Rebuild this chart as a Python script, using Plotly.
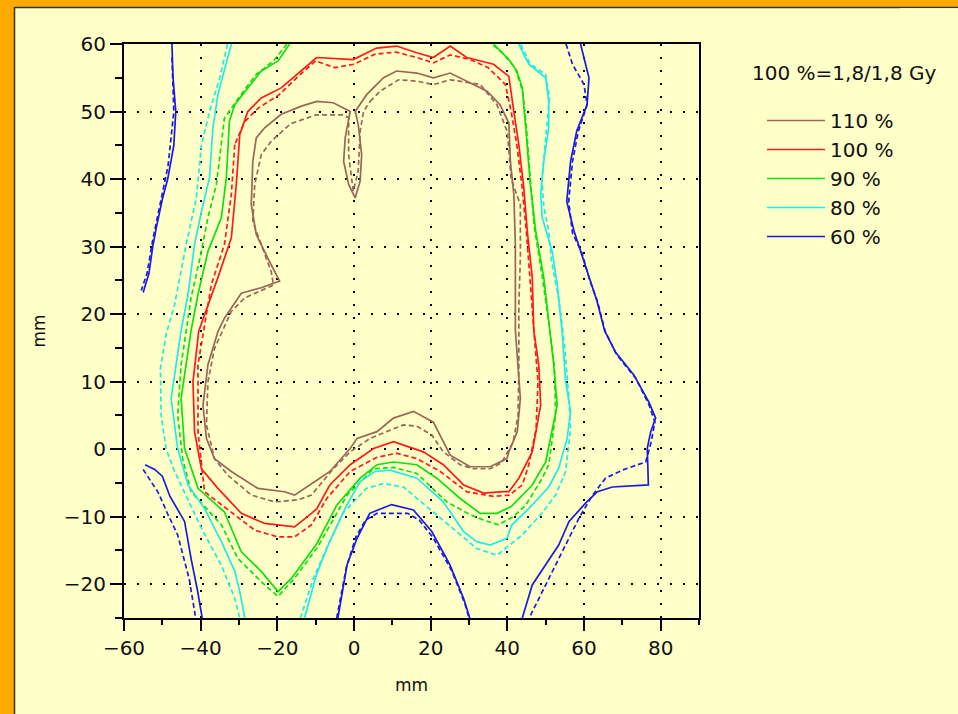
import plotly.graph_objects as go

# ---------------- data (mm) ----------------
levels = ["110 %", "100 %", "90 %", "80 %", "60 %"]
colors = ["#9A6658", "#FF1A1A", "#10E010", "#20EAEA", "#1A1AE6"]

# 110 % isodose
brown_solid_x = [-9.7, -5.4, -1.0, -2.3, -2.7, -1.4, 0.3, 1.6, 2.0, 1.1, 0.3, 3.3, 7.7, 11.1, 16.4, 20.7, 25.1, 29.4, 34.7, 38.1, 40.4, 40.8, 41.7, 42.1, 42.1, 43.4, 42.6, 40.4, 39.9, 35.5, 30.3, 25.1, 20.7, 15.5, 10.3, 6.0, 0.8, -1.0, -6.3, -9.7, -11.1, -15.5, -18.1, -25.1, -32.0, -36.4, -38.5, -39.4, -38.1, -35.5, -33.8, -29.4, -24.2, -19.4, -22.5, -25.5, -26.8, -26.4, -25.5, -23.3, -19.0, -13.7, -9.7]
brown_solid_y = [51.5, 51.3, 50.0, 46.1, 42.6, 39.2, 37.2, 39.7, 43.6, 48.1, 50.0, 52.5, 55.0, 56.0, 55.7, 55.0, 55.7, 54.5, 53.0, 51.0, 48.3, 42.6, 37.7, 30.3, 17.6, 7.5, 2.6, -0.4, -1.4, -2.6, -2.6, -0.9, 4.0, 5.6, 4.6, 2.6, 1.6, 0.1, -3.3, -4.6, -5.1, -6.8, -6.3, -5.8, -3.3, -1.4, 1.6, 6.5, 12.5, 17.4, 19.4, 23.1, 23.9, 24.9, 28.3, 31.8, 36.2, 42.6, 46.1, 47.6, 49.6, 50.8, 51.5]
brown_dash_x = [4.2, 6.8, 11.6, 16.4, 20.7, 25.1, 32.9, 37.3, 40.0, 41.0, 43.4, 43.4, 43.0, 43.0, 42.8, 41.5, 38.5, 35.5, 31.2, 27.7, 23.3, 20.3, 16.4, 12.9, 8.5, 4.2, -1.0, -5.4, -11.1, -14.6, -20.7, -26.8, -33.0, -36.4, -38.5, -38.1, -36.4, -32.0, -28.5, -21.0, -21.6, -24.2, -26.4, -25.9, -24.2, -21.6, -16.5, -10.0, -3.0, -1.4, -1.4, -0.2, 1.1, 1.6, 2.5, 4.2]
brown_dash_y = [51.5, 53.0, 54.7, 54.5, 54.0, 54.7, 54.0, 51.0, 47.0, 40.0, 36.2, 28.3, 21.4, 12.0, 5.0, 1.0, -2.0, -2.9, -2.9, -2.3, -0.4, 2.1, 3.4, 3.6, 2.6, 1.6, -0.4, -2.9, -6.8, -7.5, -7.8, -6.8, -3.8, -1.4, 3.6, 10.0, 14.9, 20.4, 22.4, 24.3, 26.3, 30.3, 33.7, 39.2, 43.6, 45.6, 48.2, 49.5, 49.5, 49.1, 43.6, 38.2, 41.2, 47.1, 50.0, 51.5]

# 100 % isodose
red_solid_x = [-9.7, -0.2, 5.9, 11.1, 16.4, 20.7, 25.1, 29.4, 36.4, 40.4, 41.7, 43.0, 44.3, 45.2, 46.5, 46.9, 48.2, 48.7, 46.5, 43.0, 40.4, 39.0, 33.8, 28.6, 23.3, 18.1, 10.3, 5.1, -1.0, -6.3, -9.7, -11.1, -15.5, -23.3, -29.4, -35.5, -39.8, -41.6, -42.0, -40.5, -35.5, -32.0, -30.7, -29.8, -27.7, -24.2, -19.0, -13.7, -9.7]
red_solid_y = [58.0, 57.7, 59.4, 59.7, 58.7, 58.0, 59.7, 58.0, 57.0, 55.2, 50.0, 45.1, 38.7, 32.3, 25.4, 17.6, 12.5, 6.5, -0.4, -4.3, -6.3, -6.3, -6.5, -5.3, -2.3, -0.4, 1.1, 0.1, -2.3, -5.3, -8.8, -9.5, -11.5, -11.0, -9.5, -5.8, -2.9, 2.6, 10.0, 17.5, 25.4, 31.3, 39.2, 46.6, 50.0, 52.0, 53.5, 56.0, 58.0]
red_dash_x = [-31.1, -32.0, -33.8, -37.2, -40.7, -40.7, -39.0, -32.0, -25.9, -19.8, -15.5, -11.1, -7.1, -1.0, 6.0, 11.1, 16.4, 22.5, 29.4, 36.4, 40.5, 43.9, 45.6, 47.5, 48.0, 47.0, 46.0, 45.0, 43.8, 42.5, 41.0, 39.5, 35.0, 30.3, 25.1, 20.7, 16.4, 11.0, 5.5, 0.0, -5.0, -10.0, -14.0, -19.5, -25.0, -28.5, -31.1]
red_dash_y = [45.1, 37.7, 30.3, 24.4, 12.5, 2.6, -6.3, -9.3, -12.0, -13.0, -13.0, -11.2, -7.3, -3.3, -1.2, -0.6, -1.4, -3.3, -6.3, -7.0, -6.8, -5.3, -2.3, 3.0, 10.0, 17.0, 25.0, 32.0, 39.0, 45.0, 50.0, 54.0, 56.5, 57.7, 58.4, 57.2, 58.0, 58.8, 58.5, 57.0, 56.5, 57.5, 55.5, 52.5, 50.5, 48.5, 45.1]

# 90 % isodose
green_solid_x = [-16.8, -19.8, -24.2, -27.7, -31.1, -32.5, -33.3, -34.6, -38.1, -40.7, -42.5, -45.1, -44.2, -40.7, -33.8, -29.4, -24.2, -19.8, -16.3, -9.7, -4.5, 1.6, 6.0, 10.3, 16.4, 21.6, 27.7, 32.9, 37.3, 41.0, 46.5, 50.0, 51.7, 53.0, 52.1, 51.1, 49.5, 47.4, 46.0, 44.8, 43.9, 42.5, 40.4, 36.4]
green_solid_y = [60.0, 57.5, 56.0, 53.5, 51.0, 48.6, 40.2, 34.3, 29.3, 22.9, 17.6, 7.5, 0.1, -5.8, -9.3, -15.2, -18.1, -21.1, -19.1, -14.0, -8.3, -4.3, -2.3, -1.9, -2.3, -4.3, -7.3, -9.5, -9.5, -8.5, -5.3, -1.9, 2.6, 6.5, 12.5, 17.5, 25.4, 32.3, 39.2, 47.6, 53.5, 56.0, 57.7, 60.0]
green_dash_x = [-17.5, -21.0, -25.5, -29.5, -33.8, -34.6, -35.9, -38.1, -39.8, -42.5, -45.1, -46.0, -44.7, -42.5, -34.6, -30.3, -23.3, -19.8, -15.5, -9.5, -4.0, -1.8, 5.1, 10.3, 16.4, 24.2, 30.3, 33.8, 37.7, 41.5, 44.8, 49.1, 50.8, 52.6, 52.3, 51.0, 49.0, 47.0, 46.0, 45.0, 44.0, 42.0, 39.0, 36.0]
green_dash_y = [60.0, 57.5, 55.5, 52.5, 49.0, 45.1, 39.2, 34.3, 29.3, 22.4, 12.5, 5.1, -1.4, -6.3, -11.2, -16.2, -20.1, -21.8, -19.1, -14.5, -9.0, -6.8, -2.9, -2.7, -3.6, -7.8, -9.7, -10.5, -11.2, -10.0, -8.3, -4.3, -2.3, 5.1, 12.0, 18.0, 26.0, 33.0, 40.0, 47.5, 53.0, 56.5, 58.5, 60.0]

# 80 % isodose (two pieces, separated by None)
cyan_solid_x = [-32.0, -33.8, -35.5, -36.8, -37.7, -39.8, -41.6, -43.3, -45.1, -47.7, -46.0, -43.3, -39.0, -34.6, -31.1, -29.8, -28.5, None,
                -12.9, -9.8, -7.1, -1.9, 1.6, 5.5, 9.4, 16.4, 23.3, 28.6, 32.0, 35.5, 39.9, 41.2, 45.6, 50.8, 53.4, 55.6, 56.5, 55.2, 54.3, 53.0, 51.7, 49.1, 48.7, 49.5, 50.8, 50.8, 50.0, 45.6, 43.0]
cyan_solid_y = [60.0, 56.0, 52.5, 47.6, 40.2, 35.2, 30.3, 22.9, 17.6, 7.5, 0.1, -5.3, -8.8, -13.7, -18.1, -21.1, -25.0, None,
                -25.0, -18.6, -14.7, -8.3, -4.8, -3.3, -3.1, -4.3, -7.8, -12.2, -13.7, -14.2, -13.2, -11.2, -8.8, -5.6, -2.8, 1.6, 5.6, 10.0, 17.4, 24.4, 29.3, 34.3, 37.7, 42.6, 47.6, 51.5, 55.0, 57.0, 60.0]
cyan_dash_x = [-33.0, -35.0, -37.4, -39.8, -41.1, -43.8, -46.8, -49.0, -50.5, -50.3, -49.0, -46.8, -39.8, -34.6, -31.1, -29.8, None,
               -14.0, -10.5, -7.0, -3.0, 3.3, 7.7, 12.9, 20.0, 26.8, 32.0, 37.3, 43.9, 49.0, 52.6, 55.2, 56.5, 56.0, 55.0, 53.5, 51.5, 50.8, 49.5, 49.0, 50.0, 51.0, 50.0, 46.0, 43.5]
cyan_dash_y = [60.0, 55.0, 50.6, 45.1, 37.3, 30.3, 21.4, 17.0, 12.0, 5.0, 0.0, -3.3, -11.7, -17.2, -22.1, -25.0, None,
               -25.0, -19.0, -14.5, -9.5, -5.8, -5.1, -5.6, -9.0, -12.2, -14.7, -15.7, -12.7, -9.5, -6.8, -3.3, 3.1, 8.0, 15.0, 22.0, 28.0, 32.3, 36.0, 40.0, 46.0, 52.0, 55.5, 57.0, 60.0]

# 60 % isodose (four pieces)
blue_solid_x = [-47.5, -47.2, -46.5, -47.0, -48.6, -50.0, -51.5, -52.5, -53.5, -55.0, None,
                -54.5, -52.0, -50.0, -48.0, -44.2, -42.5, -40.8, -39.6, None,
                -4.2, -1.8, 0.8, 4.1, 9.8, 15.5, 20.3, 25.0, 28.6, 30.2, None,
                59.1, 61.3, 60.8, 58.1, 56.5, 55.5, 57.4, 59.1, 61.3, 63.4, 65.4, 68.2, 73.0, 76.9, 78.7, 77.4, 76.5, 76.8, 67.4, 63.5, 60.4, 56.1, 53.4, 50.0, 46.5, 43.9]
blue_solid_y = [60.0, 55.0, 50.0, 45.0, 40.0, 37.0, 33.0, 30.0, 26.0, 23.2, None,
                -2.3, -3.0, -4.0, -7.0, -10.7, -16.2, -21.0, -25.0, None,
                -25.0, -17.1, -13.2, -9.5, -8.2, -9.0, -12.2, -17.1, -22.1, -25.0, None,
                60.0, 55.0, 51.0, 47.1, 42.6, 36.7, 32.3, 29.3, 25.4, 21.9, 17.5, 14.4, 11.0, 7.0, 4.6, 2.6, 0.1, -5.3, -5.6, -6.3, -8.0, -10.7, -14.2, -17.2, -20.1, -25.0]
blue_dash_x = [-47.5, -47.0, -48.5, -50.0, -52.5, -54.0, -55.5, None,
               -55.0, -51.0, -48.6, -46.0, -43.0, -41.6, -41.3, None,
               -4.5, -2.0, 0.5, 3.0, 6.0, 10.0, 14.0, 17.0, 20.5, 25.5, 29.0, 30.0, None,
               55.3, 57.0, 60.0, 60.8, 58.5, 57.0, 56.0, 57.0, 59.5, 61.5, 63.5, 65.5, 68.5, 73.5, 77.0, 78.5, 77.5, 76.1, 70.0, 65.6, 62.0, 58.7, 54.3, 50.4, 46.0, 45.7]
blue_dash_y = [58.0, 50.0, 42.0, 38.0, 31.0, 26.0, 23.5, None,
               -3.0, -6.5, -9.6, -12.7, -19.2, -24.5, -25.0, None,
               -25.0, -17.5, -13.0, -10.5, -9.5, -9.5, -9.5, -10.5, -13.0, -18.0, -23.0, -25.0, None,
               60.0, 57.0, 54.0, 51.0, 47.0, 42.6, 36.7, 32.0, 29.0, 25.0, 21.9, 17.5, 14.0, 10.5, 6.5, 4.0, 1.0, -1.9, -3.1, -4.3, -7.0, -10.2, -15.2, -19.6, -24.6, -25.0]

solid_x = [brown_solid_x, red_solid_x, green_solid_x, cyan_solid_x, blue_solid_x]
solid_y = [brown_solid_y, red_solid_y, green_solid_y, cyan_solid_y, blue_solid_y]
dash_x = [brown_dash_x, red_dash_x, green_dash_x, cyan_dash_x, blue_dash_x]
dash_y = [brown_dash_y, red_dash_y, green_dash_y, cyan_dash_y, blue_dash_y]

x_ticks = [-60, -40, -20, 0, 20, 40, 60, 80]
y_ticks = [-20, -10, 0, 10, 20, 30, 40, 50, 60]
legend_title = "100 %=1,8/1,8 Gy"

# ---------------- figure ----------------
BG = "#FFFFC8"
ORANGE = "#FFAA00"
FONT = "DejaVu Sans"
W, H = 958, 714
L, R, T, B = 124, 259, 44, 96
PW, PH = W - L - R, H - T - B

fig = go.Figure()
for i in range(len(levels)):
    fig.add_trace(go.Scatter(x=dash_x[i], y=dash_y[i], mode="lines", showlegend=False,
                             line=dict(color=colors[i], width=1.7, dash="5px,3px"),
                             hoverinfo="skip"))
for i in range(len(levels)):
    fig.add_trace(go.Scatter(x=solid_x[i], y=solid_y[i], mode="lines", name=levels[i],
                             line=dict(color=colors[i], width=1.7)))

def px2paper_x(px):
    return (px - L) / PW

def px2paper_y(py):
    return (H - B - py) / PH

shapes = [
    # orange frame: left strip and top strip only (the right and bottom edges stay pale yellow)
    dict(type="rect", xref="paper", yref="paper", x0=px2paper_x(0), x1=px2paper_x(14),
         y0=px2paper_y(H), y1=px2paper_y(0), fillcolor=ORANGE, line_width=0, layer="above"),
    dict(type="rect", xref="paper", yref="paper", x0=px2paper_x(14), x1=px2paper_x(W),
         y0=px2paper_y(7), y1=px2paper_y(0), fillcolor=ORANGE, line_width=0, layer="above"),
    dict(type="line", xref="paper", yref="paper", x0=px2paper_x(14.5), x1=px2paper_x(14.5),
         y0=px2paper_y(7), y1=px2paper_y(H), line=dict(color="#333333", width=1.5)),
    dict(type="line", xref="paper", yref="paper", x0=px2paper_x(14.5), x1=px2paper_x(W),
         y0=px2paper_y(7.5), y1=px2paper_y(7.5), line=dict(color="#333333", width=1.5)),
    # keep the right edge of the panel pale yellow
    dict(type="rect", xref="paper", yref="paper", x0=px2paper_x(900), x1=px2paper_x(W),
         y0=px2paper_y(H), y1=px2paper_y(8.3), fillcolor=BG, line_width=0, layer="above"),
]

fig.update_layout(
    width=W, height=H,
    margin=dict(l=L, r=R, t=T, b=B, autoexpand=False),
    paper_bgcolor=BG, plot_bgcolor=BG,
    font=dict(family=FONT, size=20, color="#111111"),
    shapes=shapes,
    showlegend=True,
    legend=dict(x=px2paper_x(762), y=px2paper_y(101), xanchor="left", yanchor="top",
                bgcolor="rgba(0,0,0,0)", font=dict(family=FONT, size=20, color="#111111"),
                itemwidth=58, tracegroupgap=0),
    annotations=[dict(text=legend_title, xref="paper", yref="paper",
                      x=px2paper_x(750), y=px2paper_y(73), xanchor="left", yanchor="middle",
                      showarrow=False, font=dict(family=FONT, size=20, color="#111111"))],
)
fig.update_xaxes(range=[-60, 90], tickvals=x_ticks, ticks="outside", ticklen=11, tickwidth=1.5,
                 tickcolor="black", showline=True, linecolor="black", linewidth=2, mirror=True,
                 showgrid=True, gridcolor="black", gridwidth=1.5, griddash="2px,11px",
                 zeroline=False, title=dict(text="mm", standoff=20, font=dict(size=17)),
                 minor=dict(dtick=10, ticks="outside", ticklen=5, tickwidth=1.5, tickcolor="black", showgrid=False))
fig.update_yaxes(range=[-25, 60], tickvals=y_ticks, ticks="outside", ticklen=12, tickwidth=1.5,
                 tickcolor="black", showline=True, linecolor="black", linewidth=2, mirror=True,
                 showgrid=True, gridcolor="black", gridwidth=1.5, griddash="2px,11px",
                 zeroline=False, title=dict(text="mm", standoff=14, font=dict(size=17)),
                 minor=dict(dtick=5, ticks="outside", ticklen=7, tickwidth=1.5, tickcolor="black", showgrid=False))

fig.write_html("out.html")
